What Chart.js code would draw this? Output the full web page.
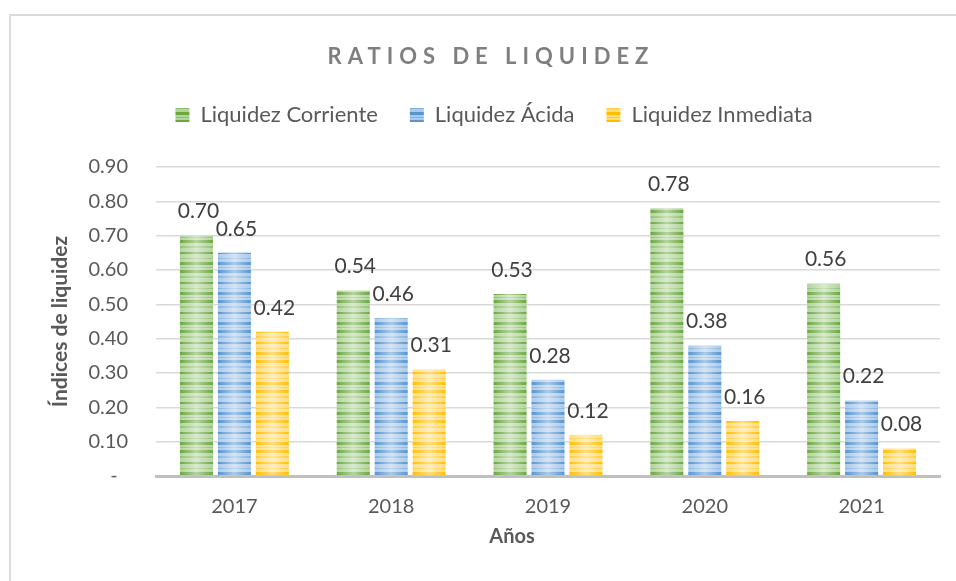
<!DOCTYPE html>
<html>
<head>
<meta charset="utf-8">
<script src="https://cdn.jsdelivr.net/npm/chart.js@4"></script>
<style>
  html, body { margin: 0; padding: 0; background: #fff; overflow: hidden; }
  #wrap { position: relative; width: 956px; height: 581px; }
  #frame { position: absolute; left: 9px; top: 14px; width: 1000px; height: 1000px;
           border: 2px solid #d9d9d9; box-sizing: border-box; }
  canvas { position: absolute; left: 0; top: 0; }
</style>
</head>
<body>
<div id="wrap">
  <div id="frame"></div>
  <canvas id="chart" width="956" height="581"></canvas>
</div>
<script>
const years      = ['2017', '2018', '2019', '2020', '2021'];
const corriente  = [0.70, 0.54, 0.53, 0.78, 0.56];
const acida      = [0.65, 0.46, 0.28, 0.38, 0.22];
const inmediata  = [0.42, 0.31, 0.12, 0.16, 0.08];
const seriesNames = ['Liquidez Corriente', 'Liquidez Ácida', 'Liquidez Inmediata'];
const yMax  = 0.9;
const yStep = 0.1;

const canvas = document.getElementById('chart');
const ctx = canvas.getContext('2d');

// striped fill, like the Excel texture
function stripes(dark, mid, light) {
  const rows = 'DDDlllmmllllDDllllmlllDDDllmll';
  const c = document.createElement('canvas');
  c.width = 4; c.height = rows.length;
  const g = c.getContext('2d');
  for (let i = 0; i < rows.length; i++) {
    g.fillStyle = rows[i] === 'D' ? dark : rows[i] === 'm' ? mid : light;
    g.fillRect(0, i, 4, 1);
  }
  return ctx.createPattern(c, 'repeat');
}

const fills = [
  stripes('#6aa840', '#8fc170', '#b3d49c'),
  stripes('#5595d2', '#83b2df', '#abc9e9'),
  stripes('#ffbf00', '#ffcd3a', '#ffdd80')
];

const shine = {
  id: 'shine',
  afterInit(chart) {
    // make the legend band taller so the plot starts lower
    const lg = chart.legend;
    const fit = lg.fit;
    lg.fit = function () { fit.call(this); this.height += 31; };
  },
  afterDatasetsDraw(chart) {
    const c = chart.ctx;
    c.save();
    chart.data.datasets.forEach((ds, i) => {
      chart.getDatasetMeta(i).data.forEach((bar, j) => {
        const p = bar.getProps(['x', 'y', 'base', 'width'], true);
        const g = c.createLinearGradient(p.x - p.width / 2, 0, p.x + p.width / 2, 0);
        g.addColorStop(0, 'rgba(255,255,255,0)');
        g.addColorStop(0.5, 'rgba(255,255,255,0.5)');
        g.addColorStop(1, 'rgba(255,255,255,0)');
        c.fillStyle = g;
        c.fillRect(p.x - p.width / 2, p.y, p.width, p.base - p.y);

        c.fillStyle = '#404040';
        c.font = '21px Lato';
        c.textAlign = 'center';
        c.textBaseline = 'middle';
        c.fillText(ds.data[j].toFixed(2), p.x + 2, p.y - 24);
      });
    });
    c.restore();
  },
  afterDraw(chart) {
    const c = chart.ctx;
    c.save();
    c.fillStyle = '#7f7f7f';
    c.font = 'bold 22px Lato';
    c.textAlign = 'center';
    c.textBaseline = 'middle';
    c.letterSpacing = '6px';
    c.fillText('RATIOS DE LIQUIDEZ', 491, 57);
    c.letterSpacing = '0px';
    c.fillStyle = '#595959';
    c.font = 'bold 20px Lato';
    c.fillText('Años', 512, 537);
    c.restore();
  }
};

new Chart(ctx, {
  type: 'bar',
  data: {
    labels: years,
    datasets: [
      { label: seriesNames[0], data: corriente, backgroundColor: fills[0] },
      { label: seriesNames[1], data: acida,     backgroundColor: fills[1] },
      { label: seriesNames[2], data: inmediata, backgroundColor: fills[2] }
    ]
  },
  options: {
    responsive: false,
    animation: false,
    devicePixelRatio: 1,
    categoryPercentage: 0.726,
    barPercentage: 0.87,
    layout: { padding: { top: 72, left: 48, right: 16, bottom: 0 } },
    font: { family: 'Lato' },
    plugins: {
      legend: {
        labels: {
          boxWidth: 14, boxHeight: 14, padding: 32,
          color: '#595959',
          font: { family: 'Lato', size: 22 }
        }
      },
      tooltip: { enabled: false }
    },
    scales: {
      x: {
        grid: { display: false },
        border: { color: '#bfbfbf', width: 3 },
        ticks: { color: '#595959', padding: 11, font: { family: 'Lato', size: 20 } },
        afterFit(s) { s.height = 105; }
      },
      y: {
        min: 0, max: yMax,
        border: { display: false },
        grid: { color: '#d9d9d9', lineWidth: 1.5, drawTicks: false },
        ticks: {
          stepSize: yStep,
          padding: 28,
          color: '#595959',
          font: { family: 'Lato', size: 20 },
          callback: v => v === 0 ? '-  ' : v.toFixed(2)
        },
        title: {
          display: true,
          text: 'Índices de liquidez',
          color: '#595959',
          font: { family: 'Lato', size: 21, weight: 'bold' },
          padding: 0
        },
        afterFit(s) { s.width = 108; }
      }
    }
  },
  plugins: [shine]
});
</script>
</body>
</html>
